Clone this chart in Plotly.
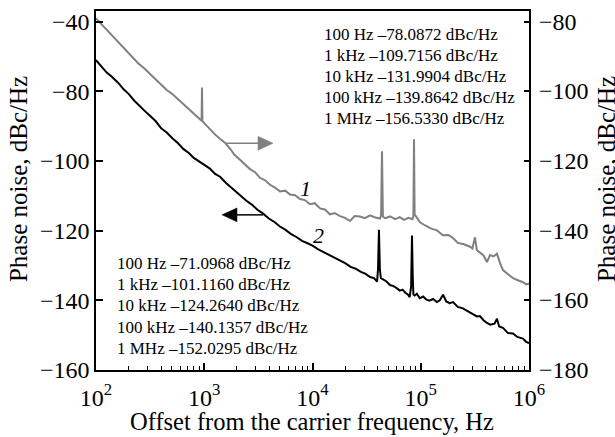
import plotly.graph_objects as go

# curve 1 (grey, right axis)
freq1 = [100, 115, 130, 150, 166, 190, 215, 245, 280, 315, 355, 400, 450, 510,
         597, 680, 760, 850, 930, 945, 953, 962, 1000, 1120, 1260, 1398, 1560,
         1730, 1900, 2139, 2400, 2646, 2950, 3273, 3650, 4050, 4500, 5010, 5600,
         6197, 6900, 7664, 8500, 9482, 10500, 11730, 13000, 14506, 16000, 17950,
         20000, 22200, 24500, 27470, 30500, 33980, 38000, 42000, 43000, 43850,
         44700, 47000, 52000, 58000, 64000, 70000, 77000, 84000, 85500, 86640,
         87800, 92000, 98400, 110000, 125000, 141300, 160000, 180000, 198600,
         220000, 250000, 285100, 300000, 317000, 330000, 352400, 380000, 409000,
         436000, 470000, 506000, 540000, 575000, 640000, 711600, 800000, 880400,
         940000, 1000000]
noise1 = [-79.0, -81.0, -82.9, -84.8, -86.3, -88.1, -89.9, -91.9, -93.4, -94.9,
          -96.4, -97.9, -99.6, -100.8, -102.7, -104.2, -105.7, -106.9, -108.1,
          -108.4, -98.9, -108.5, -109.1, -110.8, -112.4, -113.6, -114.8, -116.4,
          -118.2, -119.6, -121.0, -122.3, -123.2, -124.8, -125.5, -126.8, -127.6,
          -128.7, -128.5, -129.6, -129.8, -130.9, -131.2, -132.4, -132.1, -133.6,
          -133.9, -135.3, -134.9, -135.8, -136.3, -137.2, -135.8, -135.9, -136.4,
          -135.6, -136.2, -136.5, -135.6, -117.2, -136.0, -136.4, -135.9, -136.7,
          -136.1, -136.9, -136.3, -136.7, -135.8, -113.7, -135.3, -136.4, -137.6,
          -138.5, -139.4, -139.9, -141.3, -141.2, -142.1, -143.5, -143.9, -144.6,
          -145.1, -141.9, -145.6, -146.3, -147.1, -149.0, -147.0, -147.4, -146.6,
          -149.3, -151.3, -152.5, -153.6, -154.3, -154.8, -155.4, -155.2]

# curve 2 (black, left axis)
freq2 = [100, 112, 125, 140, 160, 180, 200, 225, 250, 280, 315, 355, 400, 450,
         510, 570, 640, 720, 800, 900, 1000, 1120, 1260, 1400, 1580, 1730, 1950,
         2185, 2450, 2750, 3100, 3500, 3950, 4450, 5000, 5600, 6300, 7100, 8000,
         9000, 10000, 11200, 12600, 14200, 16000, 18000, 20000, 22500, 25000,
         28000, 31000, 34000, 37000, 39500, 40300, 41100, 41900, 42800, 45000,
         48000, 52000, 56000, 60000, 64000, 68000, 72000, 76000, 79000, 81500,
         83000, 84300, 85500, 88000, 92000, 98000, 105000, 112000, 120000,
         130000, 141000, 150000, 160700, 172000, 185000, 198600, 220000, 245000,
         270000, 300000, 330000, 352000, 380000, 409000, 440000, 480000, 506000,
         530000, 575000, 640000, 711600, 780000, 880400, 940000, 1000000]
noise2 = [-71.0, -72.8, -74.5, -75.8, -77.5, -79.4, -80.7, -82.6, -84.1, -85.5,
          -87.0, -88.5, -90.6, -91.8, -93.5, -94.8, -96.5, -97.7, -99.1, -100.1,
          -101.2, -102.1, -103.7, -104.5, -106.2, -107.3, -108.8, -110.0, -111.4,
          -112.5, -114.0, -115.1, -116.5, -117.5, -118.8, -119.7, -120.9, -121.8,
          -122.9, -123.6, -124.3, -125.3, -126.1, -127.1, -127.8, -128.7, -129.3,
          -130.4, -130.9, -131.8, -132.4, -133.3, -133.6, -134.6, -131.0, -119.7,
          -131.0, -133.6, -134.1, -134.5, -135.6, -135.9, -136.5, -137.2, -136.9,
          -137.8, -138.3, -139.1, -136.0, -121.4, -133.0, -138.3, -138.6, -138.1,
          -139.4, -138.9, -139.7, -140.1, -139.6, -140.5, -140.0, -138.4, -140.3,
          -140.8, -140.5, -141.9, -142.3, -143.0, -143.7, -144.6, -144.5, -145.7,
          -146.5, -147.0, -146.7, -145.3, -147.5, -147.9, -149.4, -149.5, -150.5,
          -151.0, -151.9, -152.3]

spot_labels = ["100 Hz", "1 kHz", "10 kHz", "100 kHz", "1 MHz"]
spot1 = [-78.0872, -109.7156, -131.9904, -139.8642, -156.5330]
spot2 = [-71.0968, -101.1160, -124.2640, -140.1357, -152.0295]

x_ticks = [100, 1000, 10000, 100000, 1000000]
x_ticktext = ["10<sup>%d</sup>" % n for n in range(2, 7)]
y_ticks = [-60, -80, -100, -120, -140, -160]
y_ticktext = ["\u221240", "\u221280", "\u2212100", "\u2212120", "\u2212140", "\u2212160"]
y2_ticks = [-80, -100, -120, -140, -160, -180]
y2_ticktext = ["\u2212%d" % -v for v in y2_ticks]

FONT = "Liberation Serif"
GREY = "#808080"

# plot area in pixels: x 96..529, y 9..370
L, R, T, B = 96, 529, 9, 370


def px(x):
    return (x - L) / (R - L)


def py(y):
    return (B - y) / (B - T)


fig = go.Figure()
fig.add_trace(go.Scatter(x=freq1, y=noise1, mode="lines", yaxis="y2",
                         line=dict(color=GREY, width=2), showlegend=False))
fig.add_trace(go.Scatter(x=freq2, y=noise2, mode="lines",
                         line=dict(color="black", width=2), showlegend=False))

annotations = []
for i, (lab, v) in enumerate(zip(spot_labels, spot1)):
    annotations.append(dict(x=px(322), y=py(33 + 21 * i), xref="paper", yref="paper",
                            text="%s \u2013%.4f dBc/Hz" % (lab, -v), showarrow=False,
                            xanchor="left", yanchor="middle",
                            font=dict(family=FONT, size=17, color="black")))
for i, (lab, v) in enumerate(zip(spot_labels, spot2)):
    annotations.append(dict(x=px(115), y=py(263 + 21.3 * i), xref="paper", yref="paper",
                            text="%s \u2013%.4f dBc/Hz" % (lab, -v), showarrow=False,
                            xanchor="left", yanchor="middle",
                            font=dict(family=FONT, size=17, color="black")))
# right axis tick labels, set closer to the axis than plotly's default
for v, t in zip(y2_ticks, y2_ticktext):
    annotations.append(dict(x=px(537), y=v, xref="paper", yref="y2", text=t,
                            showarrow=False, xanchor="left", yanchor="middle",
                            font=dict(family=FONT, size=24, color="black")))
annotations += [
    dict(x=px(305), y=py(187), xref="paper", yref="paper", text="<i>1</i>",
         showarrow=False, xanchor="center",
         font=dict(family=FONT, size=22, color="black")),
    dict(x=px(318), y=py(235), xref="paper", yref="paper", text="<i>2</i>",
         showarrow=False, xanchor="center",
         font=dict(family=FONT, size=22, color="black")),
    dict(x=px(312), y=py(422), xref="paper", yref="paper",
         text="Offset from the carrier frequency, Hz", showarrow=False,
         xanchor="center", yanchor="middle",
         font=dict(family=FONT, size=24.5, color="black")),
    dict(x=px(18), y=py(178), xref="paper", yref="paper", textangle=-90,
         text="Phase noise, dBc/Hz", showarrow=False,
         xanchor="center", yanchor="middle",
         font=dict(family=FONT, size=25, color="black")),
    dict(x=px(606), y=py(178), xref="paper", yref="paper", textangle=-90,
         text="Phase noise, dBc/Hz", showarrow=False,
         xanchor="center", yanchor="middle",
         font=dict(family=FONT, size=25, color="black")),
]


def arrow(x0, x1, tip, y, color):
    # shaft plus filled triangular head, pixel coordinates
    return [
        dict(type="line", xref="paper", yref="paper", x0=px(x0), x1=px(x1),
             y0=py(y), y1=py(y), line=dict(color=color, width=1.5)),
        dict(type="path", xref="paper", yref="paper",
             path="M %f %f L %f %f L %f %f Z" % (px(x1), py(y - 7), px(tip), py(y),
                                                 px(x1), py(y + 7)),
             fillcolor=color, line=dict(color=color, width=0.5)),
    ]


shapes = arrow(225, 258, 273, 142, GREY) + arrow(263, 237, 222, 214, "black")

minor_vals = [k * 10 ** n for n in range(2, 6) for k in range(2, 10)]

axis_common = dict(showgrid=False, zeroline=False, showline=True, linecolor="black",
                   linewidth=1.5, ticks="inside", tickcolor="black", tickwidth=1.5,
                   tickfont=dict(family=FONT, size=24, color="black"))

fig.update_layout(
    width=615, height=437,
    margin=dict(l=L, r=615 - R, t=T, b=437 - B),
    paper_bgcolor="white", plot_bgcolor="white",
    xaxis=dict(type="log", range=[2, 6], tickvals=x_ticks, ticktext=x_ticktext,
               ticklen=7, mirror=True, ticklabelstandoff=5,
               minor=dict(tickvals=minor_vals, ticks="inside", ticklen=4,
                          tickcolor="black", tickwidth=1, showgrid=False),
               **axis_common),
    yaxis=dict(range=[-160, -56.9], tickvals=y_ticks, ticktext=y_ticktext,
               ticklen=7, **axis_common),
    yaxis2=dict(range=[-180, -76.9], tickvals=y2_ticks, showticklabels=False,
                overlaying="y", side="right", ticklen=5, **axis_common),
    annotations=annotations,
    shapes=shapes,
)

fig.write_html("out.html", config={"displayModeBar": False},
               post_script="document.body.style.margin='0px';")
